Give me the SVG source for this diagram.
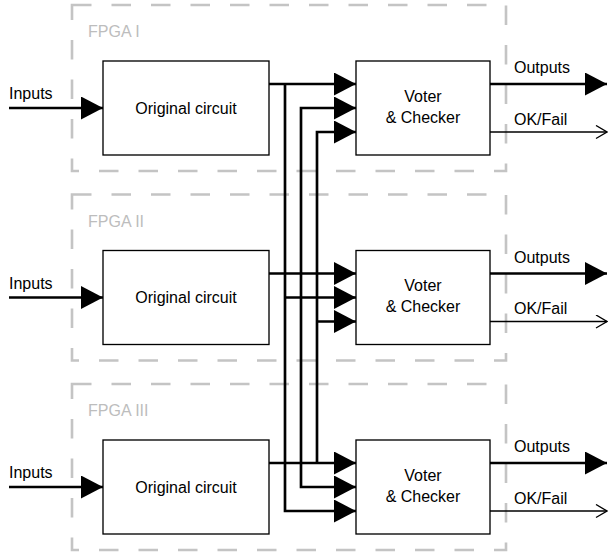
<svg xmlns="http://www.w3.org/2000/svg" width="608" height="558" viewBox="0 0 608 558">
  <style>
    .fpga { fill: none; stroke: #c4c4c4; stroke-width: 2.6; stroke-dasharray: 19.5 20; }
    .fpga-label { font-family: "Liberation Sans", Arial, sans-serif; font-size: 16px; fill: #bdbdbd; }
    .block { fill: #ffffff; stroke: #000000; stroke-width: 1.33; }
    .label { font-family: "Liberation Sans", Arial, sans-serif; font-size: 16px; fill: #000000; }
    .mid { text-anchor: middle; }
    .bus { fill: none; stroke: #000000; stroke-width: 2.67; }
    .thin { fill: none; stroke: #000000; stroke-width: 1.33; }
  </style>
  <defs>
    <marker id="solid" markerUnits="userSpaceOnUse" markerWidth="24" markerHeight="24" refX="22" refY="11.5" orient="auto">
      <path d="M0,0 L22,11.5 L0,23 Z" fill="#000000"/>
    </marker>
    <marker id="open" markerUnits="userSpaceOnUse" markerWidth="14" markerHeight="16" refX="12" refY="7" orient="auto">
      <path d="M1,0.5 L12,7 L1,13.5" fill="none" stroke="#000000" stroke-width="1.33"/>
    </marker>
  </defs>

  <!-- FPGA I -->
  <g id="fpga1">
    <rect class="fpga" x="72" y="5" width="434" height="166"/>
    <text class="fpga-label" x="88" y="37">FPGA I</text>
  </g>
  <!-- FPGA II -->
  <g id="fpga2">
    <rect class="fpga" x="72" y="194.5" width="434" height="166"/>
    <text class="fpga-label" x="88" y="226.5">FPGA II</text>
  </g>
  <!-- FPGA III -->
  <g id="fpga3">
    <rect class="fpga" x="72" y="384" width="434" height="166"/>
    <text class="fpga-label" x="88" y="416">FPGA III</text>
  </g>

  <!-- connectors -->
  <g id="connectors">
    <!-- primary inputs -->
    <path class="bus" d="M9,108 H103" marker-end="url(#solid)"/>
    <path class="bus" d="M9,297.5 H103" marker-end="url(#solid)"/>
    <path class="bus" d="M9,487 H103" marker-end="url(#solid)"/>

    <!-- circuit I output fan-out -->
    <path class="bus" d="M269,84 H356" marker-end="url(#solid)"/>
    <path class="bus" d="M285,84 V511 H356" marker-end="url(#solid)"/>
    <path class="bus" d="M285,297.5 H356" marker-end="url(#solid)"/>

    <!-- circuit II output fan-out -->
    <path class="bus" d="M269,273.5 H356" marker-end="url(#solid)"/>
    <path class="bus" d="M301,273.5 V108 H356" marker-end="url(#solid)"/>
    <path class="bus" d="M301,273.5 V487 H356" marker-end="url(#solid)"/>

    <!-- circuit III output fan-out -->
    <path class="bus" d="M269,463 H356" marker-end="url(#solid)"/>
    <path class="bus" d="M317,463 V132 H356" marker-end="url(#solid)"/>
    <path class="bus" d="M317,321.5 H356" marker-end="url(#solid)"/>

    <!-- voter outputs -->
    <path class="bus" d="M490,84 H607" marker-end="url(#solid)"/>
    <path class="thin" d="M490,132 H607" marker-end="url(#open)"/>
    <path class="bus" d="M490,273.5 H607" marker-end="url(#solid)"/>
    <path class="thin" d="M490,321.5 H607" marker-end="url(#open)"/>
    <path class="bus" d="M490,463 H607" marker-end="url(#solid)"/>
    <path class="thin" d="M490,511 H607" marker-end="url(#open)"/>
  </g>

  <!-- input / output labels -->
  <g id="io-labels">
    <text class="label" x="9" y="99">Inputs</text>
    <text class="label" x="9" y="288.5">Inputs</text>
    <text class="label" x="9" y="478">Inputs</text>
    <text class="label" x="514" y="73">Outputs</text>
    <text class="label" x="514" y="124.5">OK/Fail</text>
    <text class="label" x="514" y="262.5">Outputs</text>
    <text class="label" x="514" y="314">OK/Fail</text>
    <text class="label" x="514" y="452">Outputs</text>
    <text class="label" x="514" y="503.5">OK/Fail</text>
  </g>

  <!-- original circuits -->
  <g id="circuit1">
    <rect class="block" x="103" y="61" width="166" height="94"/>
    <text class="label mid" x="186" y="113.5">Original circuit</text>
  </g>
  <g id="circuit2">
    <rect class="block" x="103" y="250.5" width="166" height="94"/>
    <text class="label mid" x="186" y="303">Original circuit</text>
  </g>
  <g id="circuit3">
    <rect class="block" x="103" y="440" width="166" height="94"/>
    <text class="label mid" x="186" y="492.5">Original circuit</text>
  </g>

  <!-- voters -->
  <g id="voter1">
    <rect class="block" x="356" y="61" width="134" height="94"/>
    <text class="label mid" x="423" y="101.5">Voter</text>
    <text class="label mid" x="423" y="122.5">&amp; Checker</text>
  </g>
  <g id="voter2">
    <rect class="block" x="356" y="250.5" width="134" height="94"/>
    <text class="label mid" x="423" y="291">Voter</text>
    <text class="label mid" x="423" y="312">&amp; Checker</text>
  </g>
  <g id="voter3">
    <rect class="block" x="356" y="440" width="134" height="94"/>
    <text class="label mid" x="423" y="480.5">Voter</text>
    <text class="label mid" x="423" y="501.5">&amp; Checker</text>
  </g>
</svg>
